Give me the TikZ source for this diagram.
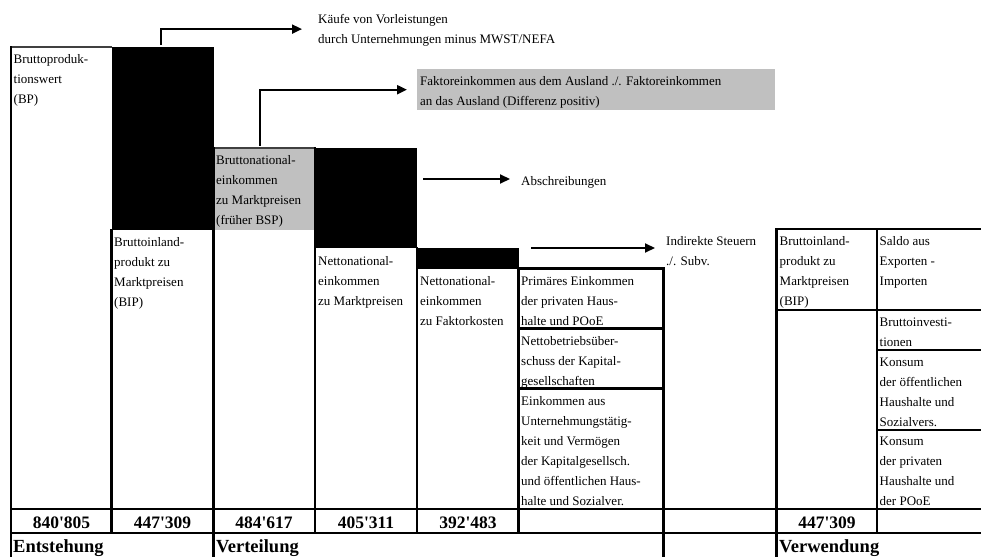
\documentclass[tikz,border=0pt]{standalone}
\usepackage{fontspec}
\newfontfamily\tnr{Liberation Serif}
\usetikzlibrary{arrows.meta}
\definecolor{gr}{RGB}{192,192,192}
\newcommand\fst{\rule{0pt}{12pt}}
\begin{document}
\begin{tikzpicture}[x=1pt,y=-1pt,
 cell/.style={anchor=north west, inner sep=0pt, align=left, font=\tnr\fontsize{13}{20}\selectfont},
 single/.style={anchor=base west, inner sep=0pt, font=\tnr\fontsize{13}{20}\selectfont},
 num/.style={inner sep=0pt, font=\tnr\bfseries\fontsize{17.5}{20}\selectfont},
 lbl/.style={anchor=base west, inner sep=0pt, font=\tnr\bfseries\fontsize{18.5}{22}\selectfont},
 bd/.style={line width=2.5pt, line cap=rect},
 tbd/.style={line width=1.2pt, draw=black!75},
 arr/.style={line width=2pt, -{Triangle[length=10pt,width=9pt]}},
]
\useasboundingbox[fill=white] (0,0) rectangle (981,556);
% filled blocks
\fill (111.5,47) rectangle (213.5,230);
\fill[gr] (213.5,148) rectangle (315,230);
\fill (315,148) rectangle (417,248);
\fill (417,248) rectangle (518.5,268.5);
% thin top lines
\draw[tbd] (11,47) -- (111.5,47);
\draw[tbd] (213.5,148) -- (315,148);
% vertical rules
\draw[bd] (11,47) -- (11,556);
\draw[bd] (111.5,230) -- (111.5,533);
\draw[bd] (213.5,148) -- (213.5,556);
\draw[bd] (315,148) -- (315,533);
\draw[bd] (417,248) -- (417,533);
\draw[bd] (518.5,268.5) -- (518.5,533);
\draw[bd] (663.5,268.5) -- (663.5,556);
\draw[bd] (776.5,229) -- (776.5,556);
\draw[bd] (877,229) -- (877,533);
% horizontal rules
\draw[bd] (518.5,268.5) -- (663.5,268.5);
\draw[bd] (518.5,328.5) -- (663.5,328.5);
\draw[bd] (518.5,388.5) -- (663.5,388.5);
\draw[bd] (776.5,229) -- (981,229);
\draw[bd] (776.5,310) -- (981,310);
\draw[bd] (877,350) -- (981,350);
\draw[bd] (877,430) -- (981,430);
\draw[bd] (11,509) -- (981,509);
\draw[bd] (11,533) -- (981,533);
% cell texts
\node[cell] (c1) at (13.5,51) {\fst Bruttoproduk-\\tionswert\\(BP)};
\node[cell] (c2) at (114,234) {\fst Bruttoinland-\\produkt zu\\Marktpreisen\\(BIP)};
\node[cell] (c3) at (216,152) {\fst Bruttonational-\\einkommen\\zu Marktpreisen\\(früher BSP)};
\node[cell] (c4) at (318,253) {\fst Nettonational-\\einkommen\\zu Marktpreisen};
\node[cell] (c5) at (420,273) {\fst Nettonational-\\einkommen\\zu Faktorkosten};
\node[cell] (c6a) at (521,273) {\fst Primäres Einkommen\\der privaten Haus-\\halte und POoE};
\node[cell] (c6b) at (521,333) {\fst Nettobetriebsüber-\\schuss der Kapital-\\gesellschaften};
\node[cell] (c6c) at (521,393) {\fst Einkommen aus\\Unternehmungstätig-\\keit und Vermögen\\der Kapitalgesellsch.\\und öffentlichen Haus-\\halte und Sozialver.};
\node[cell] (ind) at (666,233) {\fst Indirekte Steuern\\./. Subv.};
\node[cell] (c8) at (779.5,233) {\fst Bruttoinland-\\produkt zu\\Marktpreisen\\(BIP)};
\node[cell] (c9a) at (879.5,233) {\fst Saldo aus\\Exporten -\\Importen};
\node[cell] (c9b) at (879.5,314) {\fst Bruttoinvesti-\\tionen};
\node[cell] (c9c) at (879.5,354) {\fst Konsum\\der öffentlichen\\Haushalte und\\Sozialvers.};
\node[cell] (c9d) at (879.5,433) {\fst Konsum\\der privaten\\Haushalte und\\der POoE};
% numbers
\node[num] (n1) at (61.5,522.5) {840'805};
\node[num] (n2) at (162.5,522.5) {447'309};
\node[num] (n3) at (264,522.5) {484'617};
\node[num] (n4) at (366,522.5) {405'311};
\node[num] (n5) at (468,522.5) {392'483};
\node[num] (n8) at (827,522.5) {447'309};
% labels
\node[lbl] (l1) at (13,552) {Entstehung};
\node[lbl] (l2) at (216,552) {Verteilung};
\node[lbl] (l3) at (779,552) {Verwendung};
% top annotations
\node[cell] (kt) at (318,11.5) {\fst Käufe von Vorleistungen\\durch Unternehmungen minus MWST/NEFA};
\node[fill=gr, inner sep=0pt, minimum width=358pt, minimum height=41pt, anchor=north west] (fk) at (417,69) {};
\node[cell] (fkt) at (420,73) {\fst Faktoreinkommen aus dem Ausland ./. Faktoreinkommen\\an das Ausland (Differenz positiv)};
\node[single] (ab) at (521,185) {Abschreibungen};
% arrows
\coordinate (k0) at (161,45);
\draw[arr] (k0) |- ([xshift=-16pt]kt.west);
\coordinate (f0) at (260,146);
\draw[arr] (f0) |- ([xshift=-10pt]fk.west);
\coordinate (a0) at (423,179);
\path (a0 -| ab.west) coordinate (a1);
\draw[arr] (a0) -- ([xshift=-11pt]a1);
\coordinate (i0) at (531,248);
\path (i0 -| ind.west) coordinate (i1);
\draw[arr] (i0) -- ([xshift=-11pt]i1);
\end{tikzpicture}
\end{document}
